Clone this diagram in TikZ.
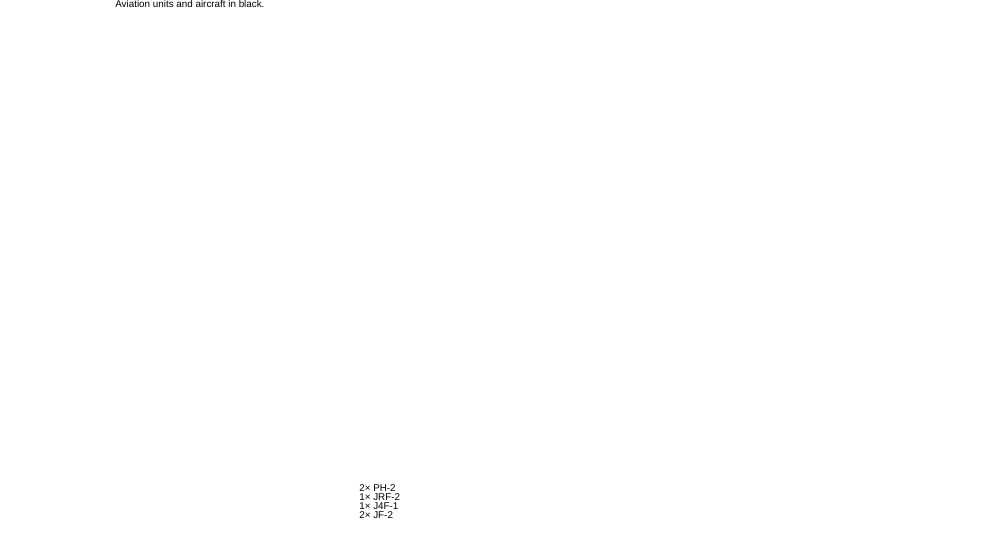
\documentclass[tikz,border=0pt]{standalone}
\usepackage{fontspec}
\setmainfont{Liberation Sans}
\usetikzlibrary{positioning}
\tikzset{
  note/.style={inner sep=0pt, align=left, font=\fontsize{5.6}{5.1}\selectfont}
}
\begin{document}
\begin{tikzpicture}
    \useasboundingbox (0,0) rectangle (20,-11);
        \node [note, anchor=west] (legend) at (2.3,-0.08) {Aviation units and aircraft in black.};
        \node [note, anchor=west] (planes) at (7.18,-10.03) {2\texttimes{} PH-2\\1\texttimes{} JRF-2\\1\texttimes{} J4F-1\\2\texttimes{} JF-2};
\end{tikzpicture}
\end{document}
